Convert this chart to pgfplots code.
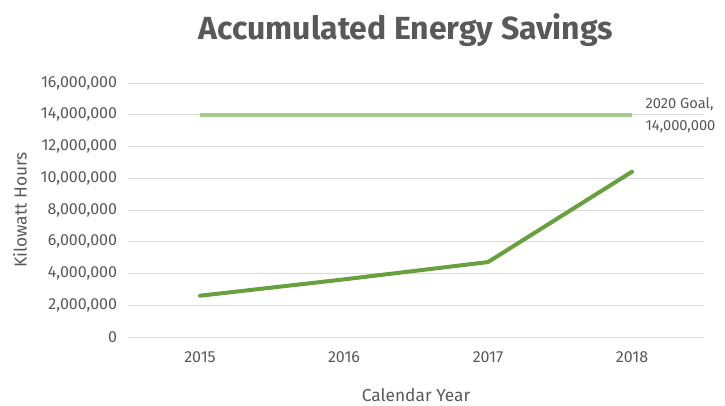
\documentclass[border=0pt]{standalone}
\usepackage{pgfplots}
\pgfplotsset{compat=1.18}
\usepackage{fontspec}
\setmainfont{Fira Sans}
\definecolor{txt}{HTML}{595959}
\definecolor{gridc}{HTML}{D9D9D9}
\definecolor{mainline}{HTML}{67A03D}
\definecolor{goalline}{HTML}{A3CD8C}
\begin{document}
\begin{tikzpicture}
\node[text=txt, font=\fontsize{24}{28}\selectfont\bfseries] at (304.5pt,281pt) {Accumulated Energy Savings};
\begin{axis}[
  at={(96pt,51pt)}, anchor=south west, scale only axis,
  width=432pt, height=190.5pt,
  xmin=-0.5, xmax=3.5, ymin=0, ymax=16000000,
  xtick={0,1,2,3}, xticklabels={2015,2016,2017,2018},
  ytick={0,2000000,4000000,6000000,8000000,10000000,12000000,14000000,16000000},
  scaled y ticks=false,
  /pgf/number format/.cd, fixed, precision=0, 1000 sep={,}, assume math mode=true,
  /pgfplots/.cd,
  axis line style={draw=none},
  tick style={draw=none},
  ymajorgrids,
  grid style={color=gridc, line width=0.75pt},
  tick label style={text=txt, font=\fontsize{12}{14}\selectfont, inner sep=0pt},
  yticklabel style={anchor=east, xshift=-8pt},
  xticklabel style={anchor=center, yshift=-15pt},
  xlabel={Calendar Year}, ylabel={Kilowatt Hours},
  label style={text=txt, font=\fontsize{13}{15}\selectfont, inner sep=0pt},
  xlabel style={at={(axis description cs:0.5,-0.228)}, anchor=center},
  ylabel style={at={(axis description cs:-0.1875,0.5)}, anchor=center},
  clip=false,
]
\addplot[goalline, line width=3pt] coordinates {(0,14000000) (3,14000000)};
\addplot[mainline, line width=3pt, line join=round, line cap=round] coordinates {
  (0,2600000) (1,3630000) (2,4720000) (3,10410000)};
\node[anchor=west, align=left, text=txt, font=\fontsize{11}{16.5}\selectfont, inner sep=0pt, xshift=10pt] at (axis cs:3,14000000) {2020 Goal,\\14,000,000};
\end{axis}
\pgfresetboundingbox
\useasboundingbox (0pt,0pt) rectangle (543.75pt,303.75pt);
\end{tikzpicture}
\end{document}
